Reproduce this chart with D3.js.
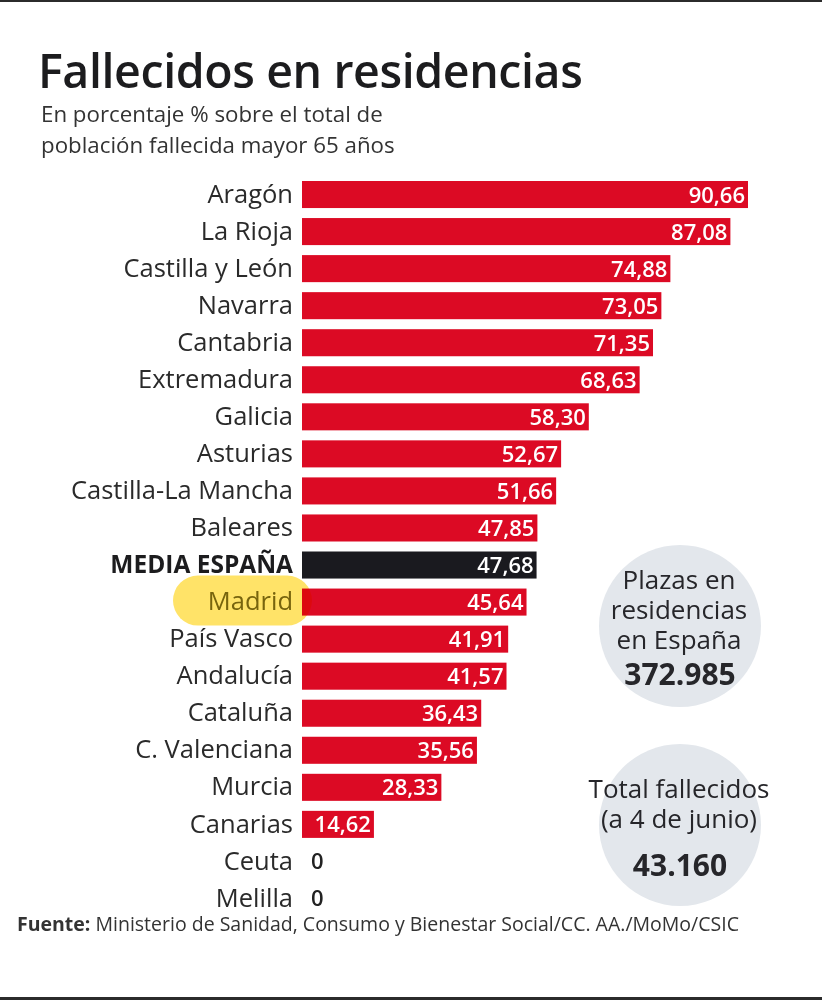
<!DOCTYPE html>
<html lang="es">
<head>
<meta charset="utf-8">
<script src="https://cdn.jsdelivr.net/npm/d3@7"></script>
<style>
  html, body { margin: 0; background: #fff; }
  svg { display: block; }
  text { font-family: "Open Sans", "Noto Sans", sans-serif; fill: #222; }
</style>
</head>
<body>
<div id="chart"></div>
<script>
// Data
const regions = ["Aragón", "La Rioja", "Castilla y León", "Navarra", "Cantabria", "Extremadura",
  "Galicia", "Asturias", "Castilla-La Mancha", "Baleares", "MEDIA ESPAÑA", "Madrid", "País Vasco",
  "Andalucía", "Cataluña", "C. Valenciana", "Murcia", "Canarias", "Ceuta", "Melilla"];
const percentages = [90.66, 87.08, 74.88, 73.05, 71.35, 68.63, 58.30, 52.67, 51.66, 47.85,
  47.68, 45.64, 41.91, 41.57, 36.43, 35.56, 28.33, 14.62, 0, 0];
const averageLabel = "MEDIA ESPAÑA";
const highlightLabel = "Madrid";
const subtitleLines = ["En porcentaje % sobre el total de", "población fallecida mayor 65 años"];
const placesLines = ["Plazas en", "residencias", "en España"];
const placesTotal = "372.985";
const deathsLines = ["Total fallecidos", "(a 4 de junio)"];
const deathsTotal = "43.160";

const width = 822, height = 1000;

const svg = d3.select("#chart")
  .append("svg")
  .attr("width", width)
  .attr("height", height);

svg.append("rect").attr("width", width).attr("height", height).attr("fill", "#fff");

// Dark edges of the screenshot
svg.append("rect").attr("width", width).attr("height", 2).attr("fill", "#2b2b2b");
svg.append("rect").attr("y", 997).attr("width", width).attr("height", 3).attr("fill", "#2b2b2b");

// Title block
svg.append("text")
  .attr("x", 38).attr("y", 88)
  .attr("font-size", 46.5)
  .attr("font-weight", 600)
  .attr("letter-spacing", -0.4)
  .style("fill", "#1c1c1e")
  .text("Fallecidos en residencias");

svg.selectAll(".subtitle")
  .data(subtitleLines)
  .enter()
  .append("text")
  .attr("class", "subtitle")
  .attr("x", 41)
  .attr("y", (d, i) => 122 + i * 31)
  .attr("font-size", 22.3)
  .style("fill", "#333")
  .text(d => d);

// Scales
const xScale = d3.scaleLinear()
  .domain([0, 90.66])
  .range([302, 748]);

const yScale = d3.scaleBand()
  .domain(regions)
  .range([181, 912])
  .paddingInner(0.27)
  .paddingOuter(0);

// Bars
const barColor = d => d === averageLabel ? "#1a1a1f" : "#dc0a24";

svg.selectAll(".bar")
  .data(regions.filter((d, i) => percentages[i] > 0))
  .enter()
  .append("rect")
  .attr("class", "bar")
  .attr("x", xScale(0))
  .attr("y", d => yScale(d))
  .attr("width", d => xScale(percentages[regions.indexOf(d)]) - xScale(0))
  .attr("height", yScale.bandwidth())
  .attr("fill", barColor);

// Value labels
const fmt = v => v === 0 ? "0" : v.toFixed(2).replace(".", ",");

svg.selectAll(".value")
  .data(regions)
  .enter()
  .append("text")
  .attr("class", "value")
  .attr("x", d => {
    const v = percentages[regions.indexOf(d)];
    return v === 0 ? xScale(0) + 9 : xScale(v) - 3;
  })
  .attr("y", d => yScale(d) + yScale.bandwidth() / 2 + 8)
  .attr("text-anchor", d => percentages[regions.indexOf(d)] === 0 ? "start" : "end")
  .attr("font-size", 22)
  .attr("font-weight", 600)
  .style("fill", d => percentages[regions.indexOf(d)] === 0 ? "#222" : "#fff")
  .text(d => fmt(percentages[regions.indexOf(d)]));

// Category labels
const yAxis = svg.append("g")
  .attr("transform", `translate(${xScale(0)}, 0)`)
  .call(d3.axisLeft(yScale).tickSize(0).tickPadding(9));

yAxis.select(".domain").remove();

yAxis.selectAll("text")
  .attr("font-size", 25.5)
  .attr("font-weight", d => d === averageLabel ? 700 : 400)
  .style("font-family", '"Open Sans", "Noto Sans", sans-serif')
  .style("fill", d => d === averageLabel ? "#1c1c1e" : d === highlightLabel ? "#77701f" : "#2a2a2a");

yAxis.selectAll("text").filter(d => d === averageLabel).attr("font-size", 24.5);

// Marker pen over Madrid
svg.append("rect")
  .attr("x", 173)
  .attr("y", yScale(highlightLabel) - 13)
  .attr("width", 139)
  .attr("height", 50)
  .attr("rx", 25)
  .attr("fill", "#ffe368")
  .style("mix-blend-mode", "multiply");

// Side circles
function drawCircle(cx, cy, lines, total, lineYs, totalY) {
  svg.append("circle")
    .attr("cx", cx).attr("cy", cy).attr("r", 81)
    .attr("fill", "#e3e7ec");

  svg.selectAll(null)
    .data(lines)
    .enter()
    .append("text")
    .attr("x", cx - 1)
    .attr("y", (d, i) => lineYs[i])
    .attr("text-anchor", "middle")
    .attr("font-size", 26)
    .style("fill", "#26262a")
    .text(d => d);

  svg.append("text")
    .attr("x", cx)
    .attr("y", totalY)
    .attr("text-anchor", "middle")
    .attr("font-size", 30)
    .attr("font-weight", 700)
    .style("fill", "#26262a")
    .text(total);
}

drawCircle(680, 626, placesLines, placesTotal, [589, 619, 649], 685);
drawCircle(680, 825, deathsLines, deathsTotal, [798, 828], 876);

// Source line
const source = svg.append("text")
  .attr("x", 17).attr("y", 931)
  .attr("font-size", 19.5)
  .style("fill", "#333");

source.append("tspan").attr("font-weight", 700).text("Fuente:");
source.append("tspan").text(" Ministerio de Sanidad, Consumo y Bienestar Social/CC. AA./MoMo/CSIC");
</script>
</body>
</html>
